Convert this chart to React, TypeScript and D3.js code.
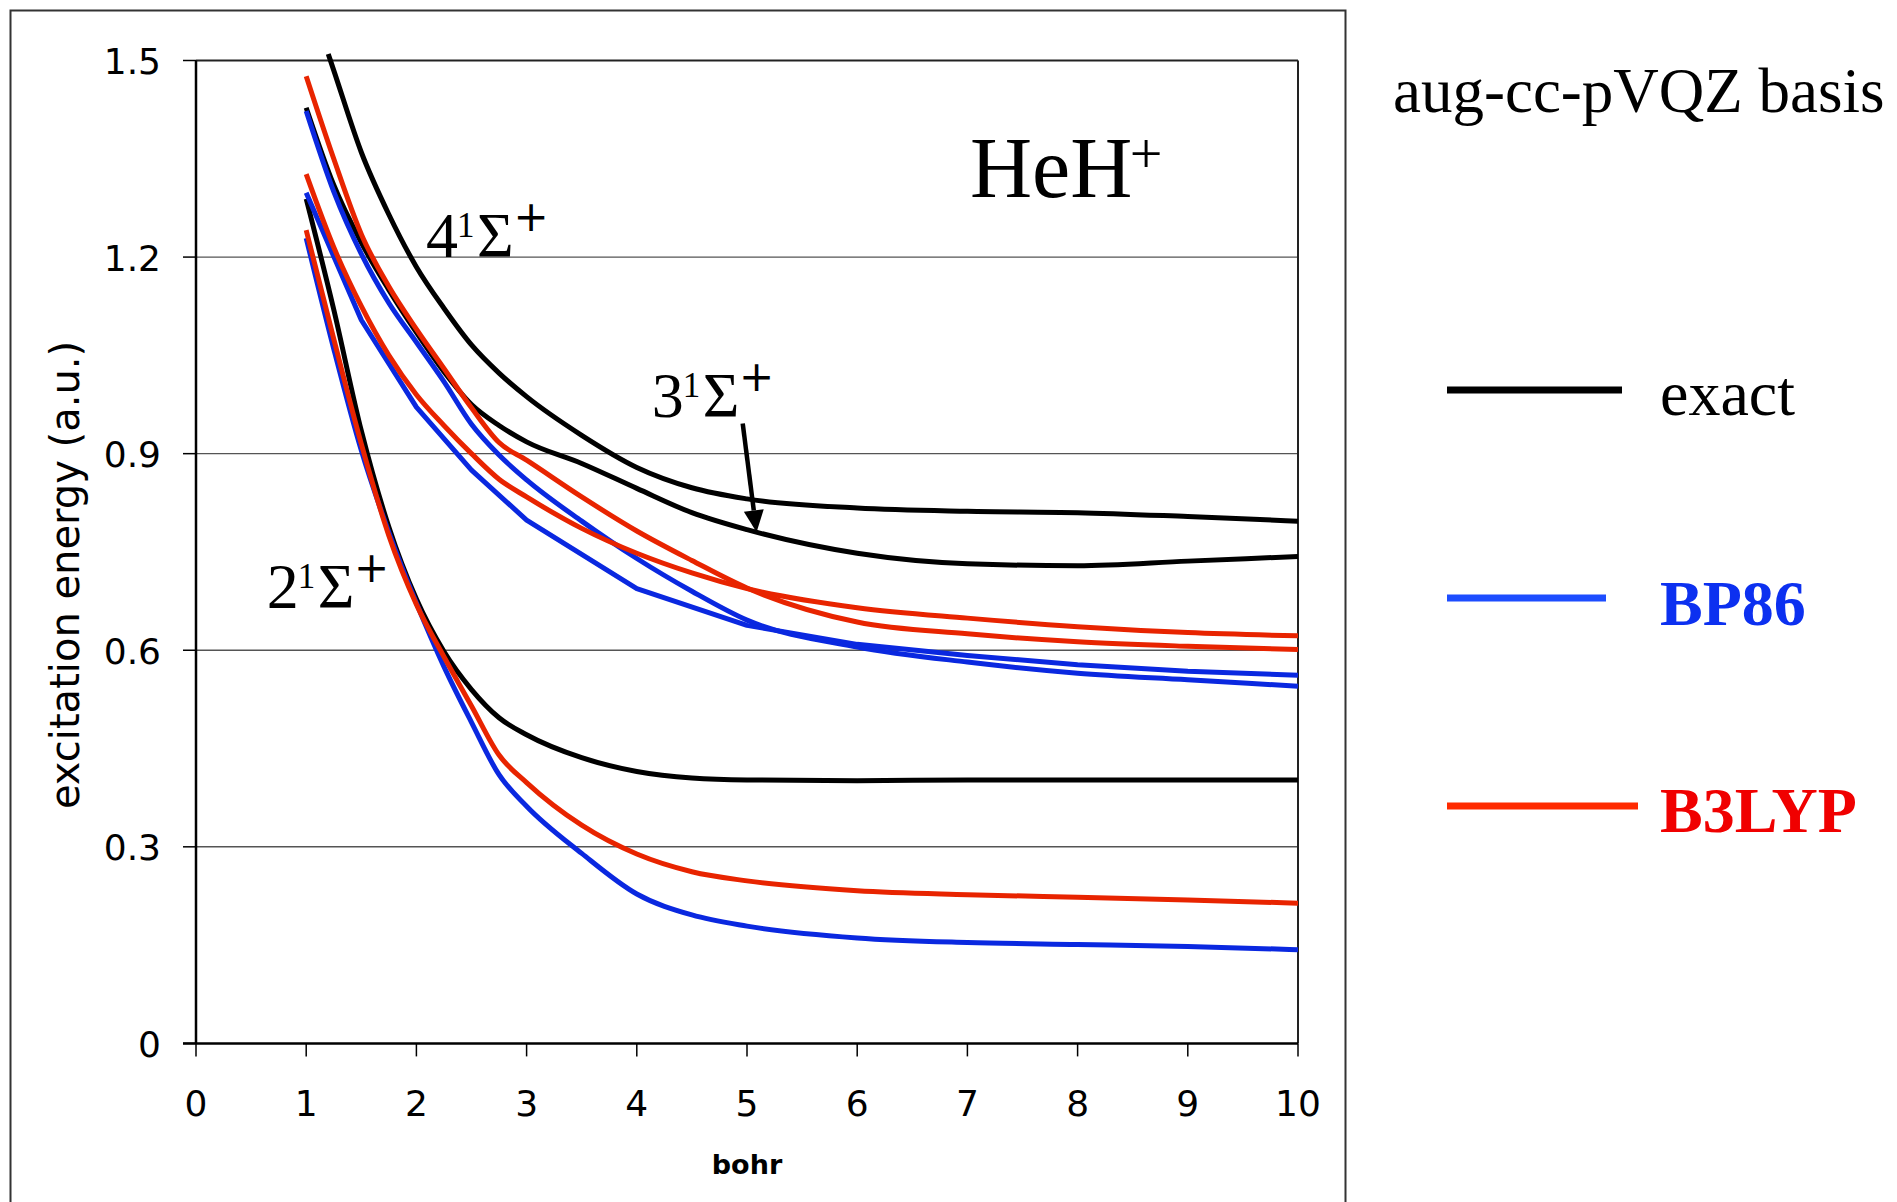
import React from 'react';
import * as d3 from 'd3';

// Internuclear distance grids (bohr)
const R_STD = [1, 1.25, 1.5, 1.75, 2, 2.25, 2.5, 2.75, 3, 3.5, 4, 4.5, 5, 6, 7, 8, 9, 10];
const R_EXACT4 = [1.2, 1.25, 1.5, 1.75, 2, 2.25, 2.5, 2.75, 3, 3.5, 4, 4.5, 5, 6, 7, 8, 9, 10];
const R_BP86_MID = [1, 1.5, 2, 2.5, 3, 4, 5, 6, 7, 8, 9, 10];

// Exact excitation energies (a.u.)
const EXACT_4 = [1.51, 1.485, 1.36, 1.265, 1.185, 1.122, 1.066, 1.023, 0.987, 0.928, 0.879, 0.848, 0.831, 0.817, 0.812, 0.81, 0.804, 0.797];
const EXACT_3 = [1.428, 1.31, 1.222, 1.15, 1.085, 1.025, 0.975, 0.943, 0.918, 0.885, 0.847, 0.81, 0.784, 0.748, 0.732, 0.729, 0.736, 0.743];
const EXACT_2 = [1.289, 1.12, 0.935, 0.788, 0.678, 0.598, 0.54, 0.497, 0.471, 0.436, 0.415, 0.405, 0.402, 0.401, 0.402, 0.402, 0.402, 0.402];

// BP86
const BP86_UPPER = [1.423, 1.3, 1.205, 1.13, 1.07, 1.01, 0.945, 0.898, 0.86, 0.797, 0.74, 0.69, 0.646, 0.605, 0.582, 0.565, 0.555, 0.545];
const BP86_MID = [1.298, 1.104, 0.971, 0.875, 0.7986, 0.694, 0.638, 0.609, 0.592, 0.578, 0.568, 0.562];
const BP86_LOW = [1.229, 1.06, 0.905, 0.78, 0.672, 0.575, 0.49, 0.41, 0.362, 0.29, 0.228, 0.196, 0.179, 0.161, 0.154, 0.151, 0.148, 0.143];

// B3LYP
const B3LYP_UPPER = [1.476, 1.35, 1.235, 1.155, 1.09, 1.03, 0.97, 0.917, 0.89, 0.834, 0.782, 0.737, 0.695, 0.643, 0.625, 0.613, 0.606, 0.601];
const B3LYP_MID = [1.3265, 1.215, 1.125, 1.05, 0.99, 0.943, 0.9, 0.861, 0.834, 0.786, 0.748, 0.718, 0.694, 0.665, 0.649, 0.636, 0.627, 0.622];
const B3LYP_LOW = [1.241, 1.075, 0.915, 0.775, 0.67, 0.59, 0.515, 0.44, 0.398, 0.333, 0.289, 0.262, 0.248, 0.233, 0.227, 0.223, 0.219, 0.214];

const Y_TICKS = [0, 0.3, 0.6, 0.9, 1.2, 1.5];
const X_TICKS = [0, 1, 2, 3, 4, 5, 6, 7, 8, 9, 10];
const LEGEND_LABELS = ['exact', 'BP86', 'B3LYP'];
const STATE_NUMBERS = ['4', '3', '2'];

const BLACK = '#000000';
const BLUE = '#0a28e0';
const RED = '#e82400';

export default function App() {
  const W = 1897;
  const H = 1202;
  const x = d3.scaleLinear().domain([0, 10]).range([196, 1298]);
  const y = d3.scaleLinear().domain([0, 1.5]).range([1043.4, 60.5]);

  const smooth = d3.line<[number, number]>().x(d => x(d[0])).y(d => y(d[1])).curve(d3.curveMonotoneX);
  const straight = d3.line<[number, number]>().x(d => x(d[0])).y(d => y(d[1])).curve(d3.curveLinear);
  const zip = (xs: number[], ys: number[]) => xs.map((v, i) => [v, ys[i]] as [number, number]);

  const series = [
    { xs: R_EXACT4, ys: EXACT_4, color: BLACK, gen: smooth },
    { xs: R_STD, ys: EXACT_3, color: BLACK, gen: smooth },
    { xs: R_STD, ys: EXACT_2, color: BLACK, gen: smooth },
    { xs: R_STD, ys: BP86_UPPER, color: BLUE, gen: smooth },
    { xs: R_BP86_MID, ys: BP86_MID, color: BLUE, gen: straight },
    { xs: R_STD, ys: BP86_LOW, color: BLUE, gen: smooth },
    { xs: R_STD, ys: B3LYP_UPPER, color: RED, gen: smooth },
    { xs: R_STD, ys: B3LYP_MID, color: RED, gen: smooth },
    { xs: R_STD, ys: B3LYP_LOW, color: RED, gen: smooth },
  ];

  const x0 = x(0), x1 = x(10), yTop = y(1.5), yBot = y(0);

  // arrow for 3 1Sigma+
  const tail = [x(4.961), y(0.946)];
  const tip = [x(5.087), y(0.780)];
  const dx = tip[0] - tail[0], dy = tip[1] - tail[1];
  const len = Math.hypot(dx, dy);
  const ux = dx / len, uy = dy / len;
  const headL = 22, headW = 10;
  const bx = tip[0] - ux * headL, by = tip[1] - uy * headL;
  const head = `M${tip[0]},${tip[1]} L${bx - uy * headW},${by + ux * headW} L${bx + uy * headW},${by - ux * headW} Z`;

  const serif = "'Liberation Serif', 'Times New Roman', serif";
  const sans = "'DejaVu Sans', Verdana, sans-serif";

  const stateLabelPos = [
    { x: 426, y: 256.7 },
    { x: 651.7, y: 416.7 },
    { x: 266.7, y: 608.3 },
  ];

  const legendRows = [
    { y: 390, x2: 1622, color: '#000000', textColor: '#000000', bold: false, base: 414.5 },
    { y: 598, x2: 1606, color: '#1d4dff', textColor: '#0c30f0', bold: true, base: 624.6 },
    { y: 806, x2: 1638, color: '#ff2a00', textColor: '#f00000', bold: true, base: 832 },
  ];

  return (
    <svg width={W} height={H} style={{ position: 'absolute', left: 0, top: 0, background: '#fff' }}>
      <rect x={0} y={0} width={W} height={H} fill="#ffffff" />
      {/* outer chart frame */}
      <path d={`M10.5,1300 V10.5 H1345.5 V1300`} fill="none" stroke="#333" strokeWidth={2} />

      {/* gridlines */}
      {Y_TICKS.filter(t => t > 0 && t < 1.5).map(t => (
        <line key={'g' + t} x1={x0} x2={x1} y1={y(t)} y2={y(t)} stroke="#555" strokeWidth={1.4} />
      ))}
      {/* plot frame */}
      <line x1={x0} x2={x1} y1={yTop} y2={yTop} stroke="#222" strokeWidth={2} />
      <line x1={x1} x2={x1} y1={yTop} y2={yBot} stroke="#222" strokeWidth={2} />
      <line x1={x0} x2={x0} y1={yTop} y2={yBot} stroke="#000" strokeWidth={2.5} />
      <line x1={x0 - 13} x2={x1} y1={yBot} y2={yBot} stroke="#000" strokeWidth={2.5} />

      {/* y ticks */}
      {Y_TICKS.map(t => (
        <g key={'yt' + t}>
          <line x1={x0 - 13} x2={x0} y1={y(t)} y2={y(t)} stroke="#000" strokeWidth={1.5} />
          <text x={161} y={y(t) + 13.5} textAnchor="end" fontFamily={sans} fontSize={36} fill="#000">
            {String(t)}
          </text>
        </g>
      ))}
      {/* x ticks */}
      {X_TICKS.map(t => (
        <g key={'xt' + t}>
          <line x1={x(t)} x2={x(t)} y1={yBot} y2={yBot + 13} stroke="#000" strokeWidth={1.5} />
          <text x={x(t)} y={1116} textAnchor="middle" fontFamily={sans} fontSize={36} fill="#000">
            {String(t)}
          </text>
        </g>
      ))}

      {/* axis titles */}
      <text x={(x0 + x1) / 2} y={1174} textAnchor="middle" fontFamily={sans} fontWeight="bold" fontSize={27} fill="#000">
        bohr
      </text>
      <text transform={`translate(79,575) rotate(-90)`} textAnchor="middle" fontFamily={sans} fontSize={40} fill="#000">
        excitation energy (a.u.)
      </text>

      {/* curves */}
      {series.map((s, i) => (
        <path key={'s' + i} d={s.gen(zip(s.xs, s.ys)) || ''} fill="none" stroke={s.color} strokeWidth={5} strokeLinejoin="round" />
      ))}

      {/* state labels */}
      {STATE_NUMBERS.map((n, i) => {
        const p = stateLabelPos[i];
        return (
          <g key={'st' + n}>
            <text x={p.x} y={p.y} fontFamily={serif} fontSize={64} fill="#000">{n}</text>
            <text x={p.x + 31} y={p.y - 20} fontFamily={serif} fontSize={35} fill="#000">1</text>
            <text x={p.x + 51} y={p.y} fontFamily={serif} fontSize={63} fill="#000">Σ</text>
            <text x={p.x + 105} y={p.y - 26} textAnchor="middle" fontFamily={sans} fontSize={42} fill="#000">+</text>
          </g>
        );
      })}

      {/* arrow */}
      <line x1={tail[0]} y1={tail[1]} x2={bx} y2={by} stroke="#000" strokeWidth={4.5} />
      <path d={head} fill="#000" />

      {/* molecule label */}
      <text x={970} y={197} fontFamily={serif} fontSize={86} fill="#000">HeH</text>
      <text x={1146} y={173} textAnchor="middle" fontFamily={serif} fontSize={58} fill="#000">+</text>

      {/* basis label */}
      <text x={1393} y={112} fontFamily={serif} fontSize={63} fill="#000">aug-cc-pVQZ basis</text>

      {/* legend */}
      {LEGEND_LABELS.map((lab, i) => {
        const r = legendRows[i];
        return (
          <g key={'lg' + lab}>
            <line x1={1447} x2={r.x2} y1={r.y} y2={r.y} stroke={r.color} strokeWidth={7} />
            <text x={1660} y={r.base} fontFamily={serif} fontSize={64} fontWeight={r.bold ? 'bold' : 'normal'} fill={r.textColor}>
              {lab}
            </text>
          </g>
        );
      })}
    </svg>
  );
}
